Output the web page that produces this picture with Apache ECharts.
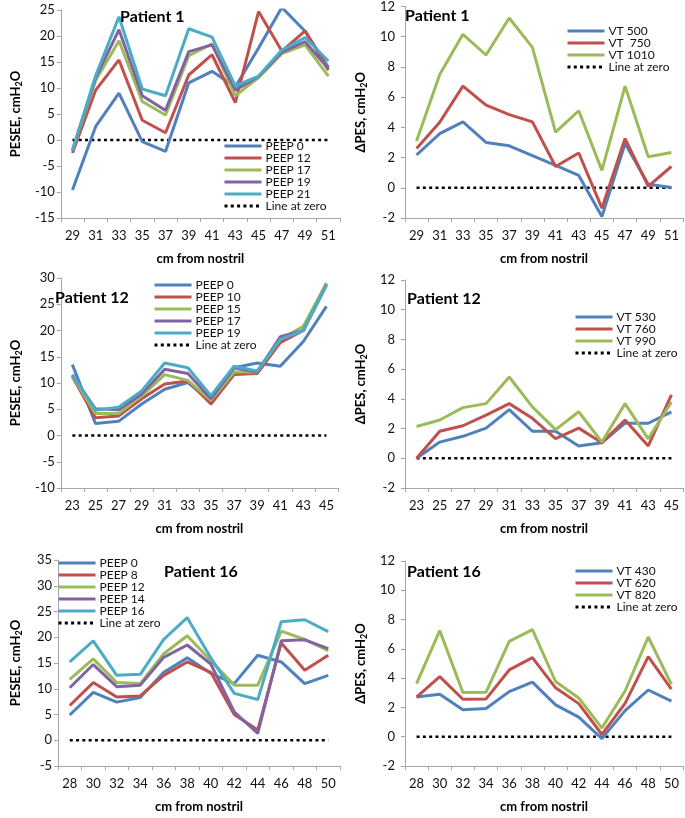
<!DOCTYPE html>
<html>
<head>
    <meta charset="utf-8">
    <script src="https://cdn.jsdelivr.net/npm/echarts@6/dist/echarts.min.js"></script>
    <style>
        body { margin: 0; background: #fff; }
        #wrap { position: relative; width: 685px; height: 818px; }
        .panel { position: absolute; }
    </style>
</head>
<body>
<div id="wrap">
    <div class="panel" id="p1" style="left:0;top:0;width:345px;height:270px;"></div>
    <div class="panel" id="p2" style="left:345px;top:0;width:340px;height:270px;"></div>
    <div class="panel" id="p3" style="left:0;top:270px;width:345px;height:270px;"></div>
    <div class="panel" id="p4" style="left:345px;top:270px;width:340px;height:270px;"></div>
    <div class="panel" id="p5" style="left:0;top:540px;width:345px;height:278px;"></div>
    <div class="panel" id="p6" style="left:345px;top:540px;width:340px;height:278px;"></div>
</div>

<script type="text/javascript">
// ---- data ----
var p1Cm = ['29', '31', '33', '35', '37', '39', '41', '43', '45', '47', '49', '51'];
var p1Peep0  = [-9.6, 2.6, 9.0, -0.3, -2.2, 11.0, 13.2, 10.2, 17.7, 25.5, 20.9, 14.0];
var p1Peep12 = [-2.5, 9.6, 15.4, 3.8, 1.4, 12.5, 16.4, 7.2, 24.7, 17.1, 21.0, 13.4];
var p1Peep17 = [-2.0, 11.5, 19.1, 7.4, 4.8, 16.2, 18.5, 8.5, 12.0, 16.6, 18.3, 12.3];
var p1Peep19 = [-2.0, 12.0, 21.2, 8.5, 5.7, 17.0, 18.3, 9.6, 12.2, 16.9, 18.9, 13.7];
var p1Peep21 = [-2.0, 12.4, 23.7, 9.8, 8.5, 21.4, 19.8, 10.4, 12.3, 17.3, 19.7, 15.2];
var p1Vt500  = [2.17, 3.58, 4.36, 3.0, 2.78, 2.13, 1.48, 0.82, -1.9, 2.93, 0.24, 0.02];
var p1Vt750  = [2.6, 4.34, 6.73, 5.47, 4.84, 4.36, 1.41, 2.3, -1.35, 3.26, 0.1, 1.41];
var p1Vt1010 = [3.1, 7.5, 10.16, 8.79, 11.24, 9.29, 3.69, 5.1, 1.15, 6.73, 2.06, 2.34];

var p12Cm = ['23', '25', '27', '29', '31', '33', '35', '37', '39', '41', '43', '45'];
var p12Peep0  = [13.5, 2.3, 2.7, 6.0, 8.8, 10.1, 6.5, 12.9, 13.8, 13.2, 17.9, 24.6];
var p12Peep10 = [11.2, 3.4, 3.7, 7.0, 9.8, 10.4, 6.0, 11.6, 11.8, 17.7, 20.0, 29.0];
var p12Peep15 = [11.3, 4.2, 4.2, 7.5, 11.6, 10.5, 6.7, 12.1, 12.1, 18.3, 20.8, 29.0];
var p12Peep17 = [11.5, 5.1, 4.9, 7.9, 12.6, 11.8, 7.0, 12.9, 12.1, 18.8, 20.0, 28.7];
var p12Peep19 = [11.6, 4.8, 5.4, 8.5, 13.8, 12.9, 7.6, 13.2, 12.3, 18.3, 20.0, 28.6];
var p12Vt530  = [0, 1.09, 1.48, 2.03, 3.28, 1.82, 1.82, 0.83, 1.05, 2.36, 2.36, 3.13];
var p12Vt760  = [0, 1.82, 2.19, 2.91, 3.68, 2.69, 1.33, 2.03, 1.05, 2.58, 0.83, 4.27];
var p12Vt990  = [2.14, 2.58, 3.41, 3.68, 5.47, 3.46, 1.93, 3.13, 1.09, 3.68, 1.31, 3.79];

var p16Cm = ['28', '30', '32', '34', '36', '38', '40', '42', '44', '46', '48', '50'];
var p16Peep0  = [4.9, 9.3, 7.4, 8.3, 13.2, 16.0, 13.0, 11.0, 16.5, 15.2, 11.0, 12.6];
var p16Peep8  = [6.75, 11.2, 8.4, 8.6, 12.6, 15.2, 13.2, 5.0, 2.0, 18.9, 13.6, 16.5];
var p16Peep12 = [11.8, 15.8, 11.2, 11.0, 16.8, 20.3, 15.5, 10.7, 10.7, 21.2, 19.6, 17.4];
var p16Peep14 = [10.2, 14.7, 10.4, 10.7, 16.1, 18.5, 14.8, 5.5, 1.35, 19.3, 19.5, 17.8];
var p16Peep16 = [15.2, 19.3, 12.6, 12.8, 19.6, 23.8, 16.0, 9.1, 7.9, 23.0, 23.4, 21.1];
var p16Vt430  = [2.71, 2.9, 1.84, 1.93, 3.08, 3.73, 2.17, 1.34, -0.13, 1.78, 3.19, 2.43];
var p16Vt620  = [2.71, 4.1, 2.56, 2.58, 4.56, 5.4, 3.34, 2.26, 0.15, 2.28, 5.47, 3.25];
var p16Vt820  = [3.62, 7.25, 3.02, 3.04, 6.51, 7.31, 3.77, 2.65, 0.59, 3.12, 6.81, 3.58];

var BLUE = '#4F81BD', RED = '#C0504D', GREEN = '#9BBB59', PURPLE = '#8064A2', CYAN = '#4BACC6';
var FONT = 'Lato, "DejaVu Sans", sans-serif';
var PESEE = '{b|PESEE, cmH}{s|2}{b|O}';
var DPES = '{b|\u0394PES, cmH}{s|2}{b|O}';

function lineSeries(name, data, color) {
    return {
        name: name, type: 'line', data: data, symbol: 'none',
        lineStyle: { color: color, width: 3 }, itemStyle: { color: color },
        animation: false
    };
}

function zeroSeries(cats) {
    return {
        name: 'Line at zero', type: 'line', data: cats.map(function () { return 0; }),
        symbol: 'none', z: 1,
        lineStyle: { color: '#000', width: 2.5, type: [3, 3.3] }, itemStyle: { color: '#000' },
        animation: false
    };
}

function makeChart(id, cfg) {
    var chart = echarts.init(document.getElementById(id));
    var series = cfg.lines.map(function (l) { return lineSeries(l[0], l[1], l[2]); });
    series.push(zeroSeries(cfg.cats));
    chart.setOption({
        animation: false,
        textStyle: { fontFamily: FONT },
        title: {
            text: cfg.title, left: cfg.titlePos[0], top: cfg.titlePos[1], padding: 0,
            textStyle: { fontFamily: FONT, fontSize: 16, fontWeight: 'bold', color: '#000' }
        },
        legend: {
            orient: 'vertical', left: cfg.legendPos[0], top: cfg.legendPos[1], padding: 0,
            itemWidth: 37, itemHeight: 14, itemGap: 0,
            itemStyle: { opacity: 0 },
            lineStyle: { width: 3 },
            textStyle: { fontFamily: FONT, fontSize: 12, color: '#111', padding: [0, 0, 0, -1] },
            data: series.map(function (s) { return s.name; })
        },
        grid: cfg.grid,
        xAxis: {
            type: 'category', data: cfg.cats, boundaryGap: true,
            name: 'cm from nostril', nameLocation: 'middle', nameGap: 34,
            nameTextStyle: { fontFamily: FONT, fontSize: 13, fontWeight: 'bold', color: '#000' },
            axisLine: { onZero: false, lineStyle: { color: '#a6a6a6', width: 1 } },
            axisTick: { show: true, length: 4, lineStyle: { color: '#a6a6a6' } },
            axisLabel: { interval: 0, margin: 11, fontFamily: FONT, fontSize: 13, color: '#111' },
            splitLine: { show: false }
        },
        yAxis: {
            type: 'value', min: cfg.yMin, max: cfg.yMax, interval: cfg.yStep,
            name: cfg.yName, nameLocation: 'middle', nameGap: cfg.yNameGap,
            nameTextStyle: {
                rich: {
                    b: { fontFamily: FONT, fontSize: 13, fontWeight: 'bold', color: '#000', lineHeight: 16 },
                    s: { fontFamily: FONT, fontSize: 9, fontWeight: 'bold', color: '#000', lineHeight: 16, padding: [7, 0, 0, 0] }
                }
            },
            axisLine: { show: true, lineStyle: { color: '#a6a6a6', width: 1 } },
            axisTick: { show: true, length: 4, lineStyle: { color: '#a6a6a6' } },
            axisLabel: { margin: cfg.yLabelMargin, fontFamily: FONT, fontSize: 13, color: '#111' },
            splitLine: { show: false }
        },
        series: series
    });
}

makeChart('p1', {
    title: 'Patient 1', titlePos: [120, 9], legendPos: [223, 140],
    grid: { left: 43, top: 10, width: 297, height: 212 },
    cats: p1Cm, yMin: -15, yMax: 25, yStep: 5, yName: PESEE, yNameGap: 34, yLabelMargin: 6,
    lines: [['PEEP 0', p1Peep0, BLUE], ['PEEP 12', p1Peep12, RED], ['PEEP 17', p1Peep17, GREEN],
            ['PEEP 19', p1Peep19, PURPLE], ['PEEP 21', p1Peep21, CYAN]]
});

makeChart('p2', {
    title: 'Patient 1', titlePos: [60, 8], legendPos: [221, 25],
    grid: { left: 45, top: 5, width: 293, height: 215 },
    cats: p1Cm, yMin: -2, yMax: 12, yStep: 2, yName: DPES, yNameGap: 34, yLabelMargin: 10,
    lines: [['VT 500', p1Vt500, BLUE], ['VT  750', p1Vt750, RED], ['VT 1010', p1Vt1010, GREEN]]
});

makeChart('p3', {
    title: 'Patient 12', titlePos: [55, 20], legendPos: [153, 9],
    grid: { left: 45, top: 8, width: 293, height: 215 },
    cats: p12Cm, yMin: -10, yMax: 30, yStep: 5, yName: PESEE, yNameGap: 36, yLabelMargin: 6,
    lines: [['PEEP 0', p12Peep0, BLUE], ['PEEP 10', p12Peep10, RED], ['PEEP 15', p12Peep15, GREEN],
            ['PEEP 17', p12Peep17, PURPLE], ['PEEP 19', p12Peep19, CYAN]]
});

makeChart('p4', {
    title: 'Patient 12', titlePos: [62, 21], legendPos: [229, 41],
    grid: { left: 45, top: 10, width: 293, height: 213 },
    cats: p12Cm, yMin: -2, yMax: 12, yStep: 2, yName: DPES, yNameGap: 34, yLabelMargin: 10,
    lines: [['VT 530', p12Vt530, BLUE], ['VT 760', p12Vt760, RED], ['VT 990', p12Vt990, GREEN]]
});

makeChart('p5', {
    title: 'Patient 16', titlePos: [164, 24], legendPos: [57, 17],
    grid: { left: 43, top: 20, width: 297, height: 217 },
    cats: p16Cm, yMin: -5, yMax: 35, yStep: 5, yName: PESEE, yNameGap: 34, yLabelMargin: 6,
    lines: [['PEEP 0', p16Peep0, BLUE], ['PEEP 8', p16Peep8, RED], ['PEEP 12', p16Peep12, GREEN],
            ['PEEP 14', p16Peep14, PURPLE], ['PEEP 16', p16Peep16, CYAN]]
});

makeChart('p6', {
    title: 'Patient 16', titlePos: [62, 24], legendPos: [229, 25],
    grid: { left: 45, top: 21, width: 293, height: 215 },
    cats: p16Cm, yMin: -2, yMax: 12, yStep: 2, yName: DPES, yNameGap: 34, yLabelMargin: 10,
    lines: [['VT 430', p16Vt430, BLUE], ['VT 620', p16Vt620, RED], ['VT 820', p16Vt820, GREEN]]
});
</script>
</body>
</html>
